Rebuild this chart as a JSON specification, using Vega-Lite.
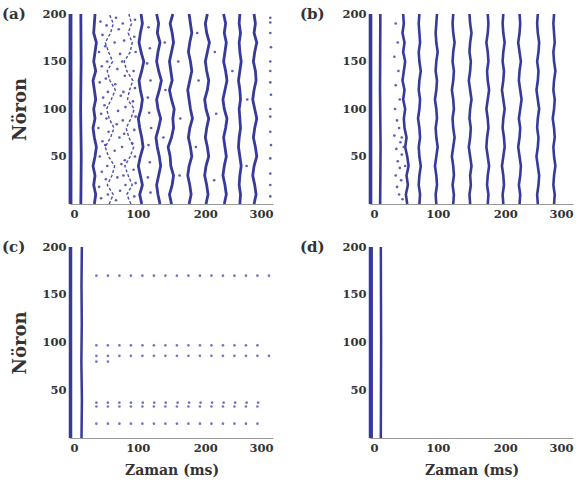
{
"$schema": "https://vega.github.io/schema/vega-lite/v6.json",
"background": "white",
"padding": {"left": 2, "top": 7, "right": 4, "bottom": 4},
"config": {
  "view": {"stroke": null},
  "axis": {"labelFont": "DejaVu Serif", "labelFontWeight": "bold", "labelFontSize": 11.5, "labelColor": "#333", "domainColor": "#999", "ticks": false, "grid": false, "titleFont": "DejaVu Serif", "titleFontWeight": "bold", "titleColor": "#333", "labelPadding": 4},
  "title": {"font": "DejaVu Serif", "fontWeight": "bold", "fontSize": 15, "color": "#333"}
},
"datasets": {
"bursts": [
{"p":"a","b":"a0","n":0,"t":0},{"p":"a","b":"a0","n":200,"t":0},
{"p":"a","b":"a0b","n":0,"t":1.5},{"p":"a","b":"a0b","n":200,"t":1.5},
{"p":"a","b":"a1","n":0,"t":16},{"p":"a","b":"a1","n":50,"t":16.6},{"p":"a","b":"a1","n":100,"t":15.7},{"p":"a","b":"a1","n":150,"t":16.4},{"p":"a","b":"a1","n":200,"t":16},
{"p":"a","b":"a2","n":0,"t":36},{"p":"a","b":"a2","n":10,"t":38},{"p":"a","b":"a2","n":20,"t":35},{"p":"a","b":"a2","n":30,"t":37},{"p":"a","b":"a2","n":40,"t":34},{"p":"a","b":"a2","n":50,"t":37},{"p":"a","b":"a2","n":60,"t":39},{"p":"a","b":"a2","n":70,"t":36},{"p":"a","b":"a2","n":80,"t":34},{"p":"a","b":"a2","n":90,"t":37},{"p":"a","b":"a2","n":100,"t":35},{"p":"a","b":"a2","n":110,"t":38},{"p":"a","b":"a2","n":120,"t":36},{"p":"a","b":"a2","n":130,"t":34},{"p":"a","b":"a2","n":140,"t":38},{"p":"a","b":"a2","n":150,"t":35},{"p":"a","b":"a2","n":160,"t":37},{"p":"a","b":"a2","n":170,"t":39},{"p":"a","b":"a2","n":180,"t":35},{"p":"a","b":"a2","n":190,"t":36},{"p":"a","b":"a2","n":200,"t":37},
{"p":"a","b":"a3","n":0,"t":58},{"p":"a","b":"a3","n":10,"t":64},{"p":"a","b":"a3","n":20,"t":55},{"p":"a","b":"a3","n":30,"t":62},{"p":"a","b":"a3","n":40,"t":66},{"p":"a","b":"a3","n":50,"t":57},{"p":"a","b":"a3","n":60,"t":52},{"p":"a","b":"a3","n":70,"t":60},{"p":"a","b":"a3","n":80,"t":65},{"p":"a","b":"a3","n":90,"t":58},{"p":"a","b":"a3","n":100,"t":54},{"p":"a","b":"a3","n":110,"t":61},{"p":"a","b":"a3","n":120,"t":67},{"p":"a","b":"a3","n":130,"t":59},{"p":"a","b":"a3","n":140,"t":55},{"p":"a","b":"a3","n":150,"t":63},{"p":"a","b":"a3","n":160,"t":57},{"p":"a","b":"a3","n":170,"t":52},{"p":"a","b":"a3","n":180,"t":60},{"p":"a","b":"a3","n":190,"t":64},{"p":"a","b":"a3","n":200,"t":58},
{"p":"a","b":"a4","n":0,"t":90},{"p":"a","b":"a4","n":10,"t":84},{"p":"a","b":"a4","n":20,"t":92},{"p":"a","b":"a4","n":30,"t":86},{"p":"a","b":"a4","n":40,"t":81},{"p":"a","b":"a4","n":50,"t":89},{"p":"a","b":"a4","n":60,"t":94},{"p":"a","b":"a4","n":70,"t":87},{"p":"a","b":"a4","n":80,"t":83},{"p":"a","b":"a4","n":90,"t":90},{"p":"a","b":"a4","n":100,"t":95},{"p":"a","b":"a4","n":110,"t":85},{"p":"a","b":"a4","n":120,"t":88},{"p":"a","b":"a4","n":130,"t":93},{"p":"a","b":"a4","n":140,"t":84},{"p":"a","b":"a4","n":150,"t":80},{"p":"a","b":"a4","n":160,"t":89},{"p":"a","b":"a4","n":170,"t":92},{"p":"a","b":"a4","n":180,"t":86},{"p":"a","b":"a4","n":190,"t":91},{"p":"a","b":"a4","n":200,"t":87},
{"p":"a","b":"a5","n":0,"t":106},{"p":"a","b":"a5","n":10,"t":103},{"p":"a","b":"a5","n":20,"t":107},{"p":"a","b":"a5","n":30,"t":104},{"p":"a","b":"a5","n":40,"t":101},{"p":"a","b":"a5","n":50,"t":104},{"p":"a","b":"a5","n":60,"t":108},{"p":"a","b":"a5","n":70,"t":106},{"p":"a","b":"a5","n":80,"t":103},{"p":"a","b":"a5","n":90,"t":101},{"p":"a","b":"a5","n":100,"t":105},{"p":"a","b":"a5","n":110,"t":107},{"p":"a","b":"a5","n":120,"t":104},{"p":"a","b":"a5","n":130,"t":102},{"p":"a","b":"a5","n":140,"t":106},{"p":"a","b":"a5","n":150,"t":109},{"p":"a","b":"a5","n":160,"t":105},{"p":"a","b":"a5","n":170,"t":102},{"p":"a","b":"a5","n":180,"t":104},{"p":"a","b":"a5","n":190,"t":107},{"p":"a","b":"a5","n":200,"t":105},
{"p":"a","b":"a6","n":0,"t":133},{"p":"a","b":"a6","n":10,"t":130},{"p":"a","b":"a6","n":20,"t":128},{"p":"a","b":"a6","n":30,"t":131},{"p":"a","b":"a6","n":40,"t":134},{"p":"a","b":"a6","n":50,"t":132},{"p":"a","b":"a6","n":60,"t":129},{"p":"a","b":"a6","n":70,"t":127},{"p":"a","b":"a6","n":80,"t":131},{"p":"a","b":"a6","n":90,"t":134},{"p":"a","b":"a6","n":100,"t":130},{"p":"a","b":"a6","n":110,"t":128},{"p":"a","b":"a6","n":120,"t":132},{"p":"a","b":"a6","n":130,"t":135},{"p":"a","b":"a6","n":140,"t":131},{"p":"a","b":"a6","n":150,"t":128},{"p":"a","b":"a6","n":160,"t":130},{"p":"a","b":"a6","n":170,"t":133},{"p":"a","b":"a6","n":180,"t":129},{"p":"a","b":"a6","n":190,"t":131},{"p":"a","b":"a6","n":200,"t":128},
{"p":"a","b":"a7","n":0,"t":150},{"p":"a","b":"a7","n":10,"t":147},{"p":"a","b":"a7","n":20,"t":151},{"p":"a","b":"a7","n":30,"t":153},{"p":"a","b":"a7","n":40,"t":149},{"p":"a","b":"a7","n":50,"t":148},{"p":"a","b":"a7","n":60,"t":145},{"p":"a","b":"a7","n":70,"t":150},{"p":"a","b":"a7","n":80,"t":153},{"p":"a","b":"a7","n":90,"t":152},{"p":"a","b":"a7","n":100,"t":154},{"p":"a","b":"a7","n":110,"t":150},{"p":"a","b":"a7","n":120,"t":147},{"p":"a","b":"a7","n":130,"t":151},{"p":"a","b":"a7","n":140,"t":149},{"p":"a","b":"a7","n":150,"t":147},{"p":"a","b":"a7","n":160,"t":150},{"p":"a","b":"a7","n":170,"t":153},{"p":"a","b":"a7","n":180,"t":151},{"p":"a","b":"a7","n":190,"t":148},{"p":"a","b":"a7","n":200,"t":152},
{"p":"a","b":"a8","n":0,"t":176},{"p":"a","b":"a8","n":10,"t":179},{"p":"a","b":"a8","n":20,"t":177},{"p":"a","b":"a8","n":30,"t":174},{"p":"a","b":"a8","n":40,"t":176},{"p":"a","b":"a8","n":50,"t":180},{"p":"a","b":"a8","n":60,"t":178},{"p":"a","b":"a8","n":70,"t":175},{"p":"a","b":"a8","n":80,"t":177},{"p":"a","b":"a8","n":90,"t":181},{"p":"a","b":"a8","n":100,"t":178},{"p":"a","b":"a8","n":110,"t":176},{"p":"a","b":"a8","n":120,"t":174},{"p":"a","b":"a8","n":130,"t":177},{"p":"a","b":"a8","n":140,"t":180},{"p":"a","b":"a8","n":150,"t":178},{"p":"a","b":"a8","n":160,"t":175},{"p":"a","b":"a8","n":170,"t":177},{"p":"a","b":"a8","n":180,"t":180},{"p":"a","b":"a8","n":190,"t":178},{"p":"a","b":"a8","n":200,"t":176},
{"p":"a","b":"a9","n":0,"t":201},{"p":"a","b":"a9","n":10,"t":204},{"p":"a","b":"a9","n":20,"t":202},{"p":"a","b":"a9","n":30,"t":199},{"p":"a","b":"a9","n":40,"t":201},{"p":"a","b":"a9","n":50,"t":205},{"p":"a","b":"a9","n":60,"t":203},{"p":"a","b":"a9","n":70,"t":200},{"p":"a","b":"a9","n":80,"t":202},{"p":"a","b":"a9","n":90,"t":205},{"p":"a","b":"a9","n":100,"t":201},{"p":"a","b":"a9","n":110,"t":199},{"p":"a","b":"a9","n":120,"t":203},{"p":"a","b":"a9","n":130,"t":205},{"p":"a","b":"a9","n":140,"t":202},{"p":"a","b":"a9","n":150,"t":200},{"p":"a","b":"a9","n":160,"t":203},{"p":"a","b":"a9","n":170,"t":206},{"p":"a","b":"a9","n":180,"t":202},{"p":"a","b":"a9","n":190,"t":200},{"p":"a","b":"a9","n":200,"t":203},
{"p":"a","b":"a10","n":0,"t":228},{"p":"a","b":"a10","n":10,"t":231},{"p":"a","b":"a10","n":20,"t":229},{"p":"a","b":"a10","n":30,"t":226},{"p":"a","b":"a10","n":40,"t":228},{"p":"a","b":"a10","n":50,"t":231},{"p":"a","b":"a10","n":60,"t":229},{"p":"a","b":"a10","n":70,"t":227},{"p":"a","b":"a10","n":80,"t":230},{"p":"a","b":"a10","n":90,"t":232},{"p":"a","b":"a10","n":100,"t":228},{"p":"a","b":"a10","n":110,"t":226},{"p":"a","b":"a10","n":120,"t":229},{"p":"a","b":"a10","n":130,"t":232},{"p":"a","b":"a10","n":140,"t":230},{"p":"a","b":"a10","n":150,"t":227},{"p":"a","b":"a10","n":160,"t":229},{"p":"a","b":"a10","n":170,"t":231},{"p":"a","b":"a10","n":180,"t":228},{"p":"a","b":"a10","n":190,"t":230},{"p":"a","b":"a10","n":200,"t":227},
{"p":"a","b":"a11","n":0,"t":251},{"p":"a","b":"a11","n":10,"t":252},{"p":"a","b":"a11","n":20,"t":250},{"p":"a","b":"a11","n":30,"t":251},{"p":"a","b":"a11","n":40,"t":253},{"p":"a","b":"a11","n":50,"t":251},{"p":"a","b":"a11","n":60,"t":249},{"p":"a","b":"a11","n":70,"t":250},{"p":"a","b":"a11","n":80,"t":252},{"p":"a","b":"a11","n":90,"t":251},{"p":"a","b":"a11","n":100,"t":250},{"p":"a","b":"a11","n":110,"t":252},{"p":"a","b":"a11","n":120,"t":251},{"p":"a","b":"a11","n":130,"t":249},{"p":"a","b":"a11","n":140,"t":251},{"p":"a","b":"a11","n":150,"t":253},{"p":"a","b":"a11","n":160,"t":251},{"p":"a","b":"a11","n":170,"t":250},{"p":"a","b":"a11","n":180,"t":252},{"p":"a","b":"a11","n":190,"t":250},{"p":"a","b":"a11","n":200,"t":251},
{"p":"a","b":"a12","n":0,"t":272},{"p":"a","b":"a12","n":10,"t":275},{"p":"a","b":"a12","n":20,"t":273},{"p":"a","b":"a12","n":30,"t":270},{"p":"a","b":"a12","n":40,"t":272},{"p":"a","b":"a12","n":50,"t":276},{"p":"a","b":"a12","n":60,"t":274},{"p":"a","b":"a12","n":70,"t":271},{"p":"a","b":"a12","n":80,"t":273},{"p":"a","b":"a12","n":90,"t":276},{"p":"a","b":"a12","n":100,"t":273},{"p":"a","b":"a12","n":110,"t":270},{"p":"a","b":"a12","n":120,"t":272},{"p":"a","b":"a12","n":130,"t":275},{"p":"a","b":"a12","n":140,"t":274},{"p":"a","b":"a12","n":150,"t":271},{"p":"a","b":"a12","n":160,"t":273},{"p":"a","b":"a12","n":170,"t":276},{"p":"a","b":"a12","n":180,"t":272},{"p":"a","b":"a12","n":190,"t":274},{"p":"a","b":"a12","n":200,"t":272},
{"p":"b","b":"b0","n":0,"t":0},{"p":"b","b":"b0","n":200,"t":0},
{"p":"b","b":"b0b","n":0,"t":1.5},{"p":"b","b":"b0b","n":200,"t":1.5},
{"p":"b","b":"b1","n":0,"t":15},{"p":"b","b":"b1","n":60,"t":15.6},{"p":"b","b":"b1","n":120,"t":14.8},{"p":"b","b":"b1","n":200,"t":15.3},
{"p":"b","b":"b2","n":0,"t":55},{"p":"b","b":"b2","n":10,"t":53},{"p":"b","b":"b2","n":20,"t":56},{"p":"b","b":"b2","n":30,"t":54},{"p":"b","b":"b2","n":40,"t":57},{"p":"b","b":"b2","n":50,"t":55},{"p":"b","b":"b2","n":60,"t":52},{"p":"b","b":"b2","n":70,"t":54},{"p":"b","b":"b2","n":80,"t":51},{"p":"b","b":"b2","n":90,"t":50},{"p":"b","b":"b2","n":100,"t":52},{"p":"b","b":"b2","n":110,"t":49},{"p":"b","b":"b2","n":120,"t":51},{"p":"b","b":"b2","n":130,"t":48},{"p":"b","b":"b2","n":140,"t":50},{"p":"b","b":"b2","n":150,"t":52},{"p":"b","b":"b2","n":160,"t":49},{"p":"b","b":"b2","n":170,"t":51},{"p":"b","b":"b2","n":180,"t":48},{"p":"b","b":"b2","n":190,"t":50},{"p":"b","b":"b2","n":200,"t":49},
{"p":"b","b":"b3","n":0,"t":73},{"p":"b","b":"b3","n":10,"t":74},{"p":"b","b":"b3","n":20,"t":72},{"p":"b","b":"b3","n":30,"t":73},{"p":"b","b":"b3","n":40,"t":75},{"p":"b","b":"b3","n":50,"t":73},{"p":"b","b":"b3","n":60,"t":72},{"p":"b","b":"b3","n":70,"t":74},{"p":"b","b":"b3","n":80,"t":73},{"p":"b","b":"b3","n":90,"t":71},{"p":"b","b":"b3","n":100,"t":73},{"p":"b","b":"b3","n":110,"t":74},{"p":"b","b":"b3","n":120,"t":72},{"p":"b","b":"b3","n":130,"t":73},{"p":"b","b":"b3","n":140,"t":75},{"p":"b","b":"b3","n":150,"t":73},{"p":"b","b":"b3","n":160,"t":72},{"p":"b","b":"b3","n":170,"t":74},{"p":"b","b":"b3","n":180,"t":73},{"p":"b","b":"b3","n":190,"t":72},{"p":"b","b":"b3","n":200,"t":73},
{"p":"b","b":"b4","n":0,"t":98},{"p":"b","b":"b4","n":10,"t":97},{"p":"b","b":"b4","n":20,"t":99},{"p":"b","b":"b4","n":30,"t":98},{"p":"b","b":"b4","n":40,"t":96},{"p":"b","b":"b4","n":50,"t":98},{"p":"b","b":"b4","n":60,"t":100},{"p":"b","b":"b4","n":70,"t":98},{"p":"b","b":"b4","n":80,"t":97},{"p":"b","b":"b4","n":90,"t":99},{"p":"b","b":"b4","n":100,"t":98},{"p":"b","b":"b4","n":110,"t":96},{"p":"b","b":"b4","n":120,"t":98},{"p":"b","b":"b4","n":130,"t":99},{"p":"b","b":"b4","n":140,"t":97},{"p":"b","b":"b4","n":150,"t":98},{"p":"b","b":"b4","n":160,"t":100},{"p":"b","b":"b4","n":170,"t":98},{"p":"b","b":"b4","n":180,"t":97},{"p":"b","b":"b4","n":190,"t":98},{"p":"b","b":"b4","n":200,"t":99},
{"p":"b","b":"b5","n":0,"t":123},{"p":"b","b":"b5","n":10,"t":124},{"p":"b","b":"b5","n":20,"t":122},{"p":"b","b":"b5","n":30,"t":124},{"p":"b","b":"b5","n":40,"t":123},{"p":"b","b":"b5","n":50,"t":121},{"p":"b","b":"b5","n":60,"t":123},{"p":"b","b":"b5","n":70,"t":125},{"p":"b","b":"b5","n":80,"t":123},{"p":"b","b":"b5","n":90,"t":122},{"p":"b","b":"b5","n":100,"t":124},{"p":"b","b":"b5","n":110,"t":123},{"p":"b","b":"b5","n":120,"t":121},{"p":"b","b":"b5","n":130,"t":123},{"p":"b","b":"b5","n":140,"t":124},{"p":"b","b":"b5","n":150,"t":122},{"p":"b","b":"b5","n":160,"t":123},{"p":"b","b":"b5","n":170,"t":125},{"p":"b","b":"b5","n":180,"t":123},{"p":"b","b":"b5","n":190,"t":122},{"p":"b","b":"b5","n":200,"t":123},
{"p":"b","b":"b6","n":0,"t":148},{"p":"b","b":"b6","n":10,"t":147},{"p":"b","b":"b6","n":20,"t":149},{"p":"b","b":"b6","n":30,"t":148},{"p":"b","b":"b6","n":40,"t":150},{"p":"b","b":"b6","n":50,"t":148},{"p":"b","b":"b6","n":60,"t":146},{"p":"b","b":"b6","n":70,"t":148},{"p":"b","b":"b6","n":80,"t":149},{"p":"b","b":"b6","n":90,"t":147},{"p":"b","b":"b6","n":100,"t":148},{"p":"b","b":"b6","n":110,"t":150},{"p":"b","b":"b6","n":120,"t":148},{"p":"b","b":"b6","n":130,"t":146},{"p":"b","b":"b6","n":140,"t":148},{"p":"b","b":"b6","n":150,"t":149},{"p":"b","b":"b6","n":160,"t":147},{"p":"b","b":"b6","n":170,"t":148},{"p":"b","b":"b6","n":180,"t":150},{"p":"b","b":"b6","n":190,"t":148},{"p":"b","b":"b6","n":200,"t":147},
{"p":"b","b":"b7","n":0,"t":174},{"p":"b","b":"b7","n":10,"t":175},{"p":"b","b":"b7","n":20,"t":173},{"p":"b","b":"b7","n":30,"t":174},{"p":"b","b":"b7","n":40,"t":176},{"p":"b","b":"b7","n":50,"t":174},{"p":"b","b":"b7","n":60,"t":172},{"p":"b","b":"b7","n":70,"t":173},{"p":"b","b":"b7","n":80,"t":175},{"p":"b","b":"b7","n":90,"t":174},{"p":"b","b":"b7","n":100,"t":172},{"p":"b","b":"b7","n":110,"t":174},{"p":"b","b":"b7","n":120,"t":176},{"p":"b","b":"b7","n":130,"t":174},{"p":"b","b":"b7","n":140,"t":173},{"p":"b","b":"b7","n":150,"t":175},{"p":"b","b":"b7","n":160,"t":174},{"p":"b","b":"b7","n":170,"t":172},{"p":"b","b":"b7","n":180,"t":174},{"p":"b","b":"b7","n":190,"t":175},{"p":"b","b":"b7","n":200,"t":174},
{"p":"b","b":"b8","n":0,"t":197},{"p":"b","b":"b8","n":10,"t":196},{"p":"b","b":"b8","n":20,"t":198},{"p":"b","b":"b8","n":30,"t":197},{"p":"b","b":"b8","n":40,"t":195},{"p":"b","b":"b8","n":50,"t":197},{"p":"b","b":"b8","n":60,"t":199},{"p":"b","b":"b8","n":70,"t":198},{"p":"b","b":"b8","n":80,"t":196},{"p":"b","b":"b8","n":90,"t":197},{"p":"b","b":"b8","n":100,"t":199},{"p":"b","b":"b8","n":110,"t":197},{"p":"b","b":"b8","n":120,"t":195},{"p":"b","b":"b8","n":130,"t":197},{"p":"b","b":"b8","n":140,"t":198},{"p":"b","b":"b8","n":150,"t":196},{"p":"b","b":"b8","n":160,"t":197},{"p":"b","b":"b8","n":170,"t":199},{"p":"b","b":"b8","n":180,"t":197},{"p":"b","b":"b8","n":190,"t":196},{"p":"b","b":"b8","n":200,"t":197},
{"p":"b","b":"b9","n":0,"t":221},{"p":"b","b":"b9","n":10,"t":222},{"p":"b","b":"b9","n":20,"t":220},{"p":"b","b":"b9","n":30,"t":222},{"p":"b","b":"b9","n":40,"t":223},{"p":"b","b":"b9","n":50,"t":221},{"p":"b","b":"b9","n":60,"t":219},{"p":"b","b":"b9","n":70,"t":221},{"p":"b","b":"b9","n":80,"t":222},{"p":"b","b":"b9","n":90,"t":220},{"p":"b","b":"b9","n":100,"t":222},{"p":"b","b":"b9","n":110,"t":224},{"p":"b","b":"b9","n":120,"t":222},{"p":"b","b":"b9","n":130,"t":220},{"p":"b","b":"b9","n":140,"t":221},{"p":"b","b":"b9","n":150,"t":223},{"p":"b","b":"b9","n":160,"t":221},{"p":"b","b":"b9","n":170,"t":219},{"p":"b","b":"b9","n":180,"t":221},{"p":"b","b":"b9","n":190,"t":222},{"p":"b","b":"b9","n":200,"t":221},
{"p":"b","b":"b10","n":0,"t":248},{"p":"b","b":"b10","n":10,"t":247},{"p":"b","b":"b10","n":20,"t":249},{"p":"b","b":"b10","n":30,"t":250},{"p":"b","b":"b10","n":40,"t":248},{"p":"b","b":"b10","n":50,"t":246},{"p":"b","b":"b10","n":60,"t":248},{"p":"b","b":"b10","n":70,"t":249},{"p":"b","b":"b10","n":80,"t":247},{"p":"b","b":"b10","n":90,"t":248},{"p":"b","b":"b10","n":100,"t":250},{"p":"b","b":"b10","n":110,"t":248},{"p":"b","b":"b10","n":120,"t":246},{"p":"b","b":"b10","n":130,"t":248},{"p":"b","b":"b10","n":140,"t":249},{"p":"b","b":"b10","n":150,"t":247},{"p":"b","b":"b10","n":160,"t":249},{"p":"b","b":"b10","n":170,"t":250},{"p":"b","b":"b10","n":180,"t":248},{"p":"b","b":"b10","n":190,"t":247},{"p":"b","b":"b10","n":200,"t":248},
{"p":"b","b":"b11","n":0,"t":272},{"p":"b","b":"b11","n":10,"t":273},{"p":"b","b":"b11","n":20,"t":271},{"p":"b","b":"b11","n":30,"t":272},{"p":"b","b":"b11","n":40,"t":274},{"p":"b","b":"b11","n":50,"t":272},{"p":"b","b":"b11","n":60,"t":271},{"p":"b","b":"b11","n":70,"t":273},{"p":"b","b":"b11","n":80,"t":272},{"p":"b","b":"b11","n":90,"t":270},{"p":"b","b":"b11","n":100,"t":272},{"p":"b","b":"b11","n":110,"t":273},{"p":"b","b":"b11","n":120,"t":271},{"p":"b","b":"b11","n":130,"t":272},{"p":"b","b":"b11","n":140,"t":274},{"p":"b","b":"b11","n":150,"t":272},{"p":"b","b":"b11","n":160,"t":271},{"p":"b","b":"b11","n":170,"t":273},{"p":"b","b":"b11","n":180,"t":272},{"p":"b","b":"b11","n":190,"t":271},{"p":"b","b":"b11","n":200,"t":272},
{"p":"c","b":"c0","n":0,"t":0},{"p":"c","b":"c0","n":200,"t":0},
{"p":"c","b":"c0b","n":0,"t":1.5},{"p":"c","b":"c0b","n":200,"t":1.5},
{"p":"c","b":"c1","n":0,"t":17},{"p":"c","b":"c1","n":40,"t":17.6},{"p":"c","b":"c1","n":80,"t":16.8},{"p":"c","b":"c1","n":120,"t":17.4},{"p":"c","b":"c1","n":160,"t":17},{"p":"c","b":"c1","n":200,"t":17.5},
{"p":"d","b":"d0","n":0,"t":0},{"p":"d","b":"d0","n":200,"t":0},
{"p":"d","b":"d0b","n":0,"t":2.5},{"p":"d","b":"d0b","n":200,"t":2.5},
{"p":"d","b":"d1","n":0,"t":16},{"p":"d","b":"d1","n":100,"t":16.4},{"p":"d","b":"d1","n":200,"t":16}
],
"dots": [
{"p":"a","t":45,"n":192},{"p":"a","t":48,"n":178},{"p":"a","t":43,"n":160},{"p":"a","t":47,"n":145},{"p":"a","t":44,"n":128},{"p":"a","t":49,"n":112},{"p":"a","t":46,"n":95},{"p":"a","t":42,"n":80},{"p":"a","t":48,"n":66},{"p":"a","t":44,"n":50},{"p":"a","t":47,"n":34},{"p":"a","t":43,"n":18},{"p":"a","t":46,"n":6},
{"p":"a","t":68,"n":196},{"p":"a","t":72,"n":184},{"p":"a","t":66,"n":170},{"p":"a","t":74,"n":158},{"p":"a","t":70,"n":142},{"p":"a","t":67,"n":126},{"p":"a","t":75,"n":114},{"p":"a","t":71,"n":98},{"p":"a","t":69,"n":84},{"p":"a","t":73,"n":70},{"p":"a","t":66,"n":56},{"p":"a","t":76,"n":42},{"p":"a","t":70,"n":28},{"p":"a","t":74,"n":14},{"p":"a","t":68,"n":4},
{"p":"a","t":78,"n":190},{"p":"a","t":80,"n":172},{"p":"a","t":77,"n":150},{"p":"a","t":81,"n":135},{"p":"a","t":79,"n":118},{"p":"a","t":82,"n":102},{"p":"a","t":78,"n":88},{"p":"a","t":80,"n":74},{"p":"a","t":77,"n":60},{"p":"a","t":81,"n":46},{"p":"a","t":79,"n":30},{"p":"a","t":82,"n":20},
{"p":"a","t":54,"n":188},{"p":"a","t":52,"n":166},{"p":"a","t":55,"n":150},{"p":"a","t":53,"n":132},{"p":"a","t":56,"n":118},{"p":"a","t":51,"n":104},{"p":"a","t":54,"n":90},{"p":"a","t":57,"n":76},{"p":"a","t":52,"n":62},{"p":"a","t":55,"n":40},{"p":"a","t":53,"n":26},{"p":"a","t":56,"n":10},
{"p":"a","t":96,"n":194},{"p":"a","t":95,"n":176},{"p":"a","t":97,"n":160},{"p":"a","t":94,"n":140},{"p":"a","t":96,"n":122},{"p":"a","t":93,"n":108},{"p":"a","t":97,"n":92},{"p":"a","t":95,"n":78},{"p":"a","t":92,"n":64},{"p":"a","t":96,"n":50},{"p":"a","t":94,"n":36},{"p":"a","t":97,"n":22},{"p":"a","t":95,"n":8},
{"p":"a","t":116,"n":186},{"p":"a","t":118,"n":164},{"p":"a","t":114,"n":148},{"p":"a","t":119,"n":130},{"p":"a","t":115,"n":112},{"p":"a","t":117,"n":96},{"p":"a","t":120,"n":80},{"p":"a","t":116,"n":62},{"p":"a","t":118,"n":44},{"p":"a","t":115,"n":28},{"p":"a","t":119,"n":12},
{"p":"a","t":140,"n":170},{"p":"a","t":141,"n":120},{"p":"a","t":138,"n":70},{"p":"a","t":160,"n":150},{"p":"a","t":163,"n":90},{"p":"a","t":162,"n":30},{"p":"a","t":188,"n":180},{"p":"a","t":190,"n":130},{"p":"a","t":186,"n":60},{"p":"a","t":214,"n":160},{"p":"a","t":216,"n":95},{"p":"a","t":213,"n":25},{"p":"a","t":240,"n":140},{"p":"a","t":262,"n":110},{"p":"a","t":261,"n":40},
{"p":"a","t":296,"n":196},{"p":"a","t":296,"n":191},{"p":"a","t":296,"n":180},{"p":"a","t":297,"n":165},{"p":"a","t":296,"n":150},{"p":"a","t":296,"n":140},{"p":"a","t":296,"n":128},{"p":"a","t":297,"n":115},{"p":"a","t":296,"n":100},{"p":"a","t":296,"n":92},{"p":"a","t":296,"n":76},{"p":"a","t":297,"n":62},{"p":"a","t":296,"n":48},{"p":"a","t":296,"n":32},{"p":"a","t":296,"n":20},{"p":"a","t":296,"n":8},
{"p":"b","t":38,"n":190},{"p":"b","t":41,"n":170},{"p":"b","t":36,"n":155},{"p":"b","t":42,"n":140},{"p":"b","t":38,"n":125},{"p":"b","t":44,"n":110},{"p":"b","t":37,"n":100},{"p":"b","t":40,"n":88},{"p":"b","t":43,"n":80},{"p":"b","t":36,"n":72},{"p":"b","t":45,"n":65},{"p":"b","t":39,"n":58},{"p":"b","t":47,"n":52},{"p":"b","t":41,"n":45},{"p":"b","t":44,"n":38},{"p":"b","t":38,"n":30},{"p":"b","t":46,"n":25},{"p":"b","t":40,"n":18},{"p":"b","t":43,"n":10},{"p":"b","t":48,"n":5},{"p":"b","t":50,"n":60},{"p":"b","t":52,"n":40},{"p":"b","t":47,"n":70},
{"p":"c","t":39,"n":170},{"p":"c","t":56,"n":170},{"p":"c","t":73,"n":170},{"p":"c","t":90,"n":170},{"p":"c","t":107,"n":170},{"p":"c","t":124,"n":170},{"p":"c","t":141,"n":170},{"p":"c","t":158,"n":170},{"p":"c","t":175,"n":170},{"p":"c","t":192,"n":170},{"p":"c","t":209,"n":170},{"p":"c","t":226,"n":170},{"p":"c","t":243,"n":170},{"p":"c","t":260,"n":170},{"p":"c","t":277,"n":170},{"p":"c","t":294,"n":170},
{"p":"c","t":39,"n":97},{"p":"c","t":56,"n":97},{"p":"c","t":73,"n":97},{"p":"c","t":90,"n":97},{"p":"c","t":107,"n":97},{"p":"c","t":124,"n":97},{"p":"c","t":141,"n":97},{"p":"c","t":158,"n":97},{"p":"c","t":175,"n":97},{"p":"c","t":192,"n":97},{"p":"c","t":209,"n":97},{"p":"c","t":226,"n":97},{"p":"c","t":243,"n":97},{"p":"c","t":260,"n":97},{"p":"c","t":277,"n":97},
{"p":"c","t":39,"n":86},{"p":"c","t":56,"n":86},{"p":"c","t":73,"n":86},{"p":"c","t":90,"n":86},{"p":"c","t":107,"n":86},{"p":"c","t":124,"n":86},{"p":"c","t":141,"n":86},{"p":"c","t":158,"n":86},{"p":"c","t":175,"n":86},{"p":"c","t":192,"n":86},{"p":"c","t":209,"n":86},{"p":"c","t":226,"n":86},{"p":"c","t":243,"n":86},{"p":"c","t":260,"n":86},{"p":"c","t":277,"n":86},{"p":"c","t":294,"n":86},
{"p":"c","t":39,"n":80},{"p":"c","t":56,"n":80},
{"p":"c","t":39,"n":37},{"p":"c","t":39,"n":33},{"p":"c","t":56,"n":37},{"p":"c","t":56,"n":33},{"p":"c","t":73,"n":37},{"p":"c","t":73,"n":33},{"p":"c","t":90,"n":37},{"p":"c","t":90,"n":33},{"p":"c","t":107.5,"n":37},{"p":"c","t":107,"n":33},{"p":"c","t":124.5,"n":37},{"p":"c","t":124,"n":33},{"p":"c","t":141.5,"n":37},{"p":"c","t":141,"n":33},{"p":"c","t":159,"n":37},{"p":"c","t":158,"n":33},{"p":"c","t":176,"n":37},{"p":"c","t":175,"n":33},{"p":"c","t":193,"n":37},{"p":"c","t":192,"n":33},{"p":"c","t":210,"n":37},{"p":"c","t":209,"n":33},{"p":"c","t":227,"n":37},{"p":"c","t":226,"n":33},{"p":"c","t":244,"n":37},{"p":"c","t":243,"n":33},{"p":"c","t":261,"n":37},{"p":"c","t":260,"n":33},{"p":"c","t":278,"n":37},{"p":"c","t":277,"n":33},
{"p":"c","t":39,"n":15},{"p":"c","t":56,"n":15},{"p":"c","t":73,"n":15},{"p":"c","t":90,"n":15},{"p":"c","t":107,"n":15},{"p":"c","t":124,"n":15},{"p":"c","t":141,"n":15},{"p":"c","t":158,"n":15},{"p":"c","t":175,"n":15},{"p":"c","t":192,"n":15},{"p":"c","t":209,"n":15},{"p":"c","t":226,"n":15},{"p":"c","t":243,"n":15},{"p":"c","t":260,"n":15},{"p":"c","t":277,"n":15}
]
},
"vconcat": [
 {"hconcat": [
  {"width": 203, "height": 190,
   "title": {"text": "(a)", "anchor": "start", "frame": "group", "dx": -68, "dy": 18},
   "layer": [
    {"data": {"name": "bursts"}, "transform": [{"filter": "datum.p == 'a' && datum.b != 'a3' && datum.b != 'a4'"}],
     "mark": {"type": "line", "color": "#363a9c", "strokeWidth": 2.8},
     "encoding": {"x": {"field": "t", "type": "quantitative", "scale": {"domain": [0, 300], "nice": false}, "axis": {"title": null, "values": [0, 100, 200, 300]}},
                  "y": {"field": "n", "type": "quantitative", "scale": {"domain": [0, 200], "nice": false}, "axis": {"title": "Nöron", "titleFontSize": 18, "titlePadding": 12, "values": [50, 100, 150, 200]}},
                  "detail": {"field": "b"}, "order": {"field": "n"}}},
    {"data": {"name": "bursts"}, "transform": [{"filter": "datum.b == 'a3' || datum.b == 'a4'"}],
     "mark": {"type": "line", "color": "#4a4eb0", "strokeWidth": 1.4, "strokeDash": [3, 2]},
     "encoding": {"x": {"field": "t", "type": "quantitative"}, "y": {"field": "n", "type": "quantitative"},
                  "detail": {"field": "b"}, "order": {"field": "n"}}},
    {"data": {"name": "dots"}, "transform": [{"filter": "datum.p == 'a'"}],
     "mark": {"type": "circle", "size": 7, "color": "#4a4eb0", "opacity": 0.9},
     "encoding": {"x": {"field": "t", "type": "quantitative"}, "y": {"field": "n", "type": "quantitative"}}}
   ]},
  {"width": 203, "height": 190,
   "title": {"text": "(b)", "anchor": "start", "frame": "group", "dx": -70, "dy": 18},
   "layer": [
    {"data": {"name": "bursts"}, "transform": [{"filter": "datum.p == 'b'"}],
     "mark": {"type": "line", "color": "#363a9c", "strokeWidth": 2.6},
     "encoding": {"x": {"field": "t", "type": "quantitative", "scale": {"domain": [0, 300], "nice": false}, "axis": {"title": null, "values": [0, 100, 200, 300]}},
                  "y": {"field": "n", "type": "quantitative", "scale": {"domain": [0, 200], "nice": false}, "axis": {"title": null, "values": [50, 100, 150, 200]}},
                  "detail": {"field": "b"}, "order": {"field": "n"}}},
    {"data": {"name": "dots"}, "transform": [{"filter": "datum.p == 'b'"}],
     "mark": {"type": "circle", "size": 7, "color": "#4a4eb0", "opacity": 0.9},
     "encoding": {"x": {"field": "t", "type": "quantitative"}, "y": {"field": "n", "type": "quantitative"}}}
   ]}
 ], "spacing": 27},
 {"hconcat": [
  {"width": 203, "height": 191,
   "title": {"text": "(c)", "anchor": "start", "frame": "group", "dx": -68, "dy": 18},
   "layer": [
    {"data": {"name": "bursts"}, "transform": [{"filter": "datum.p == 'c'"}],
     "mark": {"type": "line", "color": "#363a9c", "strokeWidth": 2.5},
     "encoding": {"x": {"field": "t", "type": "quantitative", "scale": {"domain": [0, 300], "nice": false}, "axis": {"title": "Zaman (ms)", "titleFontSize": 14, "titlePadding": 10, "values": [0, 100, 200, 300]}},
                  "y": {"field": "n", "type": "quantitative", "scale": {"domain": [0, 200], "nice": false}, "axis": {"title": "Nöron", "titleFontSize": 18, "titlePadding": 12, "values": [50, 100, 150, 200]}},
                  "detail": {"field": "b"}, "order": {"field": "n"}}},
    {"data": {"name": "dots"}, "transform": [{"filter": "datum.p == 'c'"}],
     "mark": {"type": "circle", "size": 7, "color": "#5a5eb5", "opacity": 0.85},
     "encoding": {"x": {"field": "t", "type": "quantitative"}, "y": {"field": "n", "type": "quantitative"}}}
   ]},
  {"width": 203, "height": 191,
   "title": {"text": "(d)", "anchor": "start", "frame": "group", "dx": -70, "dy": 18},
   "layer": [
    {"data": {"name": "bursts"}, "transform": [{"filter": "datum.p == 'd'"}],
     "mark": {"type": "line", "color": "#363a9c", "strokeWidth": 2.5},
     "encoding": {"x": {"field": "t", "type": "quantitative", "scale": {"domain": [0, 300], "nice": false}, "axis": {"title": "Zaman (ms)", "titleFontSize": 14, "titlePadding": 10, "values": [0, 100, 200, 300]}},
                  "y": {"field": "n", "type": "quantitative", "scale": {"domain": [0, 200], "nice": false}, "axis": {"title": null, "values": [50, 100, 150, 200]}},
                  "detail": {"field": "b"}, "order": {"field": "n"}}}
   ]}
 ], "spacing": 27}
], "spacing": 20
}
